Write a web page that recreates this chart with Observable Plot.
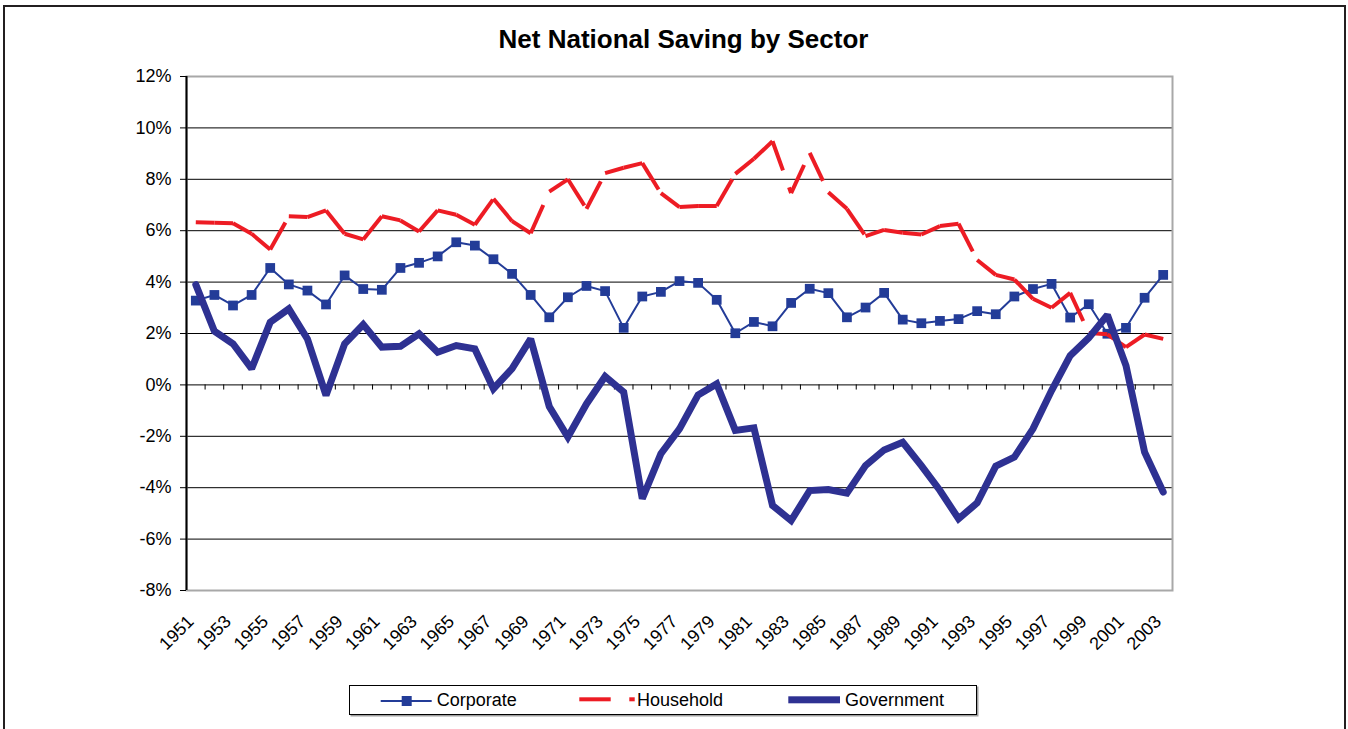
<!DOCTYPE html>
<html>
<head>
<meta charset="utf-8">
<script src="https://cdn.jsdelivr.net/npm/d3@7"></script>
<script src="https://cdn.jsdelivr.net/npm/@observablehq/plot@0.6"></script>
<style>
  html, body { margin: 0; padding: 0; background: #fff; }
  #wrap { position: relative; width: 1348px; height: 729px; overflow: hidden; font-family: "Liberation Sans", Arial, sans-serif; }
  #outer { position: absolute; left: 3px; top: 5px; width: 1339px; height: 760px; border: 2px solid #231f20; }
  #title { position: absolute; left: 0; top: 26px; width: 1367px; text-align: center; font-size: 26px; line-height: 26px; font-weight: bold; color: #000; }
  #chart { position: absolute; left: 0; top: 0; }
  #legend { position: absolute; left: 349px; top: 685px; }
</style>
</head>
<body>
<div id="wrap">
  <div id="outer"></div>
  <div id="chart"></div>
  <div id="title">Net National Saving by Sector</div>
  <div id="legend"></div>
</div>
<script>
const years = [1951,1952,1953,1954,1955,1956,1957,1958,1959,1960,1961,1962,1963,1964,1965,1966,1967,1968,1969,1970,
  1971,1972,1973,1974,1975,1976,1977,1978,1979,1980,1981,1982,1983,1984,1985,1986,1987,1988,1989,1990,
  1991,1992,1993,1994,1995,1996,1997,1998,1999,2000,2001,2002,2003];

const corporate = [3.28,3.50,3.09,3.50,4.55,3.91,3.67,3.13,4.26,3.73,3.70,4.55,4.75,5.00,5.55,5.42,4.89,4.32,3.50,2.63,
  3.41,3.85,3.65,2.22,3.44,3.62,4.04,3.97,3.31,2.01,2.45,2.28,3.19,3.74,3.57,2.63,3.01,3.58,2.54,2.40,
  2.49,2.56,2.87,2.75,3.44,3.73,3.93,2.62,3.14,1.99,2.22,3.39,4.28];

const household = [6.33,6.31,6.29,5.88,5.27,6.56,6.53,6.79,5.88,5.66,6.56,6.40,5.97,6.79,6.62,6.23,7.24,6.37,5.90,7.52,
  8.00,6.85,8.24,8.45,8.63,7.46,6.92,6.96,6.96,8.21,8.80,9.48,7.46,9.03,7.50,6.85,5.79,6.03,5.92,5.85,
  6.18,6.27,4.86,4.28,4.10,3.35,3.00,3.58,2.02,1.97,1.47,1.96,1.79];

const government = [3.90,2.09,1.60,0.63,2.44,2.96,1.79,-0.41,1.60,2.35,1.47,1.50,1.99,1.27,1.53,1.40,-0.15,0.63,1.79,-0.84,
  -2.03,-0.74,0.33,-0.28,-4.43,-2.68,-1.71,-0.39,0.04,-1.77,-1.67,-4.69,-5.28,-4.11,-4.07,-4.21,-3.14,-2.53,-2.23,-3.14,
  -4.11,-5.21,-4.59,-3.16,-2.81,-1.71,-0.22,1.14,1.83,2.72,0.75,-2.62,-4.17];

const yTicks = [-8,-6,-4,-2,0,2,4,6,8,10,12];
const xLabels = [1951,1953,1955,1957,1959,1961,1963,1965,1967,1969,1971,1973,1975,1977,1979,1981,1983,1985,1987,1989,1991,1993,1995,1997,1999,2001,2003];

const seriesNames = ["Corporate", "Household", "Government"];
const seriesColors = ["#233C98", "#ED1C24", "#2E3192"];

const corp = years.map((y, i) => ({year: y, value: corporate[i]}));
const gov = years.map((y, i) => ({year: y, value: government[i]}));
const hhSegs = years.slice(1).map((y, i) => ({x1: years[i], y1: household[i], x2: y, y2: household[i + 1]}));
const catBounds = years.slice(0, -1).map(y => y + 0.5);

const chart = Plot.plot({
  width: 1348,
  height: 729,
  marginLeft: 186,
  marginRight: 176,
  marginTop: 76,
  marginBottom: 139,
  style: {fontFamily: "'Liberation Sans', Arial, sans-serif", fontSize: "18px", color: "#000", background: "transparent", overflow: "visible"},
  x: {domain: [years[0] - 0.5, years[years.length - 1] + 0.5]},
  y: {domain: [yTicks[0], yTicks[yTicks.length - 1]]},
  marks: [
    Plot.gridY(yTicks.filter(d => d > -8 && d < 12 && d !== 0), {stroke: "#000", strokeOpacity: 1, strokeWidth: 1}),
    Plot.frame({stroke: "#a8a8a8", strokeWidth: 2}),
    Plot.ruleX([years[0] - 0.5], {stroke: "#000", strokeWidth: 2}),
    Plot.axisY({ticks: yTicks, tickFormat: d => d + "%", tickSize: 6, tickPadding: 9, label: null, stroke: "#000", fill: "#000"}),
    Plot.ruleY([0], {stroke: "#000", strokeWidth: 1}),
    Plot.ruleX(catBounds, {y1: 0, y2: -0.2, stroke: "#000", strokeWidth: 1}),
    Plot.axisX({ticks: xLabels, tickFormat: d => String(d), tickSize: 0, tickPadding: 28, tickRotate: -45,
      textAnchor: "end", lineAnchor: "middle", dx: -5, label: null, fill: "#000"}),
    Plot.line(corp, {x: "year", y: "value", stroke: seriesColors[0], strokeWidth: 2}),
    Plot.dot(corp, {x: "year", y: "value", symbol: "square", r: 5.5, fill: seriesColors[0], stroke: "none"}),
    Plot.link(hhSegs, {x1: "x1", y1: "y1", x2: "x2", y2: "y2", stroke: seriesColors[1], strokeWidth: 4,
      strokeDasharray: "31,18,6,18", strokeLinecap: "butt"}),
    Plot.line(gov, {x: "year", y: "value", stroke: seriesColors[2], strokeWidth: 7, strokeLinejoin: "miter", strokeMiterlimit: 2})
  ]
});
document.getElementById("chart").appendChild(chart);

// Legend
const ns = "http://www.w3.org/2000/svg";
const lg = d3.select("#legend").append("svg").attr("width", 630).attr("height", 32)
  .style("overflow", "visible").style("font-family", "'Liberation Sans', Arial, sans-serif");
lg.append("rect").attr("x", 1.5).attr("y", 1.5).attr("width", 628).attr("height", 30).attr("fill", "#a0a0a0");
lg.append("rect").attr("x", 0.5).attr("y", 0.5).attr("width", 627).attr("height", 29).attr("fill", "#fff").attr("stroke", "#000");
// Corporate
lg.append("line").attr("x1", 31.7).attr("x2", 82.7).attr("y1", 16).attr("y2", 16).attr("stroke", seriesColors[0]).attr("stroke-width", 2);
lg.append("rect").attr("x", 52.7).attr("y", 11).attr("width", 10).attr("height", 10).attr("fill", seriesColors[0]);
lg.append("text").attr("x", 87.7).attr("y", 21.3).attr("font-size", 18).text(seriesNames[0]);
// Household
lg.append("rect").attr("x", 230.3).attr("y", 12.3).attr("width", 31.4).attr("height", 4).attr("fill", seriesColors[1]);
lg.append("rect").attr("x", 280.3).attr("y", 12.3).attr("width", 5.4).attr("height", 4).attr("fill", seriesColors[1]);
lg.append("text").attr("x", 288).attr("y", 21.3).attr("font-size", 18).text(seriesNames[1]);
// Government
lg.append("rect").attr("x", 439.3).attr("y", 11.3).attr("width", 51.7).attr("height", 7).attr("fill", seriesColors[2]);
lg.append("text").attr("x", 496).attr("y", 21.3).attr("font-size", 18).text(seriesNames[2]);
</script>
</body>
</html>
